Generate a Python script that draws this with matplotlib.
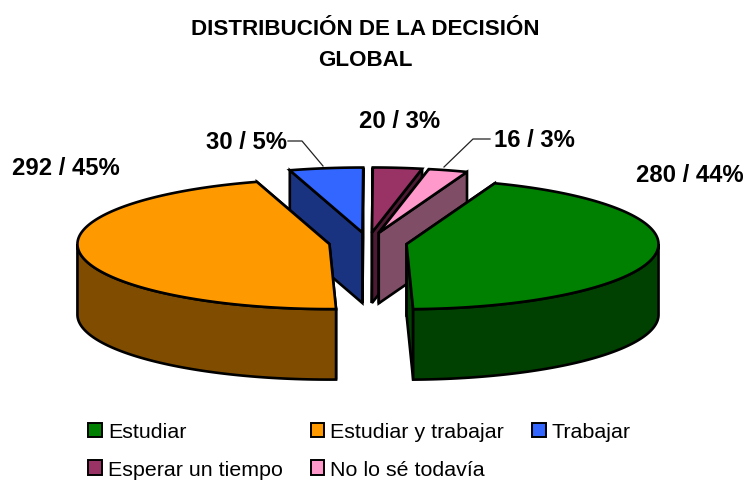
import numpy as np
import matplotlib
matplotlib.use("Agg")
import matplotlib.pyplot as plt
from matplotlib.patches import Patch

plt.rcParams['font.family'] = ['Liberation Sans', 'DejaVu Sans']

# Data
categories = ["Estudiar", "Estudiar y trabajar", "Trabajar", "Esperar un tiempo", "No lo sé todavía"]
counts = [280, 292, 30, 20, 16]
percents = [44, 45, 5, 3, 3]
title_lines = "DISTRIBUCIÓN DE LA DECISIÓN\nGLOBAL"

# Styles
top_colors = ["#008000", "#FF9900", "#3366FF", "#993366", "#FF99CC"]
wall_colors = ["#004000", "#804D00", "#1A3380", "#4D1A33", "#804D66"]
label_pos = [(690, 176), (66, 169), (247, 143), (400, 122), (534, 141)]

# Projection of the exploded 3D pie, in pixels
CX, CY = 368.0, 243.5
A, B = 252.0, 65.0
DEPTH = 70.5
EXPLODE = 0.155
START = 69.5

fig = plt.figure(figsize=(7.46, 4.81), dpi=100)
ax = fig.add_axes([0, 0, 1, 1])
ax.set_xlim(0, 746)
ax.set_ylim(481, 0)
ax.axis("off")


def arc(c, t0, t1, n=120):
    t = np.radians(np.linspace(t0, t1, n))
    return c[0] + A * np.cos(t), c[1] - B * np.sin(t)


total = sum(counts)
spans = [360.0 * v / total for v in counts]
slices = []
a = START
for i, s in enumerate(spans):
    t0, t1 = a, a - s
    mid = np.radians((t0 + t1) / 2)
    c = (CX + EXPLODE * A * np.cos(mid), CY - EXPLODE * B * np.sin(mid))
    slices.append((i, t0, t1, c))
    a = t1


def poly(x, y, color, z):
    ax.fill(x, y, facecolor=color, edgecolor="black", linewidth=1.9, joinstyle="miter", zorder=z)


def draw_slice(i, t0, t1, c, z):
    # cut faces
    for t in (t0, t1):
        ex, ey = arc(c, t, t, 1)
        poly([c[0], ex[0], ex[0], c[0]], [c[1], ey[0], ey[0] + DEPTH, c[1] + DEPTH], wall_colors[i], z)
    # outer wall: the part of the rim facing the viewer
    lo, hi = t1, t0
    for shift in (0, -360):
        a0, a1 = max(lo, -180 + shift), min(hi, 0 + shift)
        if a1 > a0:
            x, y = arc(c, a0, a1)
            poly(np.r_[x, x[::-1]], np.r_[y, y[::-1] + DEPTH], wall_colors[i], z + 0.1)
    # top
    x, y = arc(c, t0, t1)
    poly(np.r_[c[0], x], np.r_[c[1], y], top_colors[i], z + 0.2)


# painter's order: back pieces first
for order, idx in enumerate([2, 3, 4, 1, 0]):
    i, t0, t1, c = slices[idx]
    draw_slice(i, t0, t1, c, 2 + order)

# Leader lines
ax.plot([288, 302, 323], [142, 142, 167], color="#222222", lw=0.9, zorder=1)
ax.plot([444, 473, 490], [168, 140, 140], color="#222222", lw=0.9, zorder=1)

# Data labels
for (x, y), n, p in zip(label_pos, counts, percents):
    ax.text(x, y, f"{n} / {p}%", ha="center", va="center", fontsize=17.2,
            fontweight="bold", color="black", zorder=20)

# Title
ax.text(365, 45, title_lines, ha="center", va="center", fontsize=16.1,
        fontweight="bold", color="black", linespacing=1.62)

# Legend (columns fill top to bottom)
order = [0, 3, 1, 4, 2]
handles = [Patch(facecolor=top_colors[i], edgecolor="black", linewidth=1.4, label=categories[i]) for i in order]
ax.legend(handles=handles, ncol=3, loc="upper left", bbox_to_anchor=(83.7 / 746, 1 - 419 / 481),
          frameon=False, fontsize=15.4, handlelength=0.65, handleheight=0.65,
          handletextpad=0.28, columnspacing=1.3, labelspacing=0.87, borderpad=0.2, borderaxespad=0)

fig.savefig("out.png", dpi=100)
